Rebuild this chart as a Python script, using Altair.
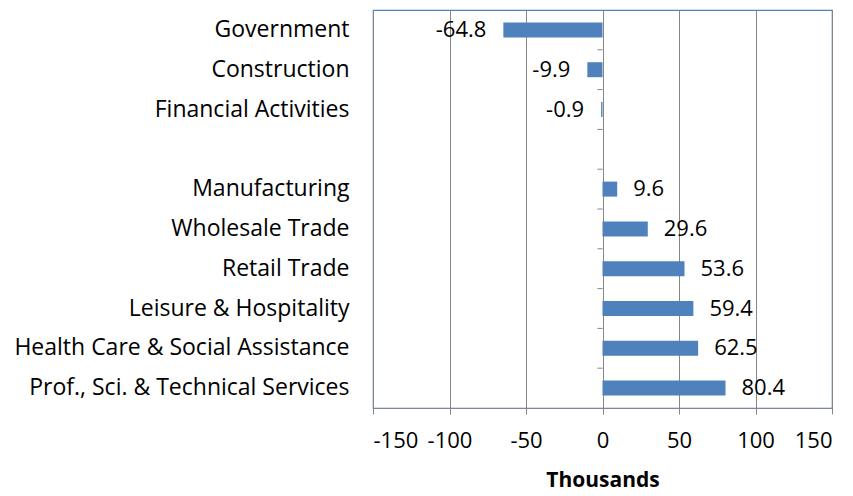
import altair as alt
import pandas as pd

categories = ["Government", "Construction", "Financial Activities", " ",
              "Manufacturing", "Wholesale Trade", "Retail Trade",
              "Leisure & Hospitality", "Health Care & Social Assistance",
              "Prof., Sci. & Technical Services"]
bar_categories = ["Government", "Construction", "Financial Activities",
                  "Manufacturing", "Wholesale Trade", "Retail Trade",
                  "Leisure & Hospitality", "Health Care & Social Assistance",
                  "Prof., Sci. & Technical Services"]
values = [-64.8, -9.9, -0.9, 9.6, 29.6, 53.6, 59.4, 62.5, 80.4]
x_ticks = [-150, -100, -50, 0, 50, 100, 150]

df = pd.DataFrame({"cat": bar_categories, "val": values})
df["label"] = [f"{v:.1f}" for v in values]
bounds = pd.DataFrame({"cat": categories[1:]})

FONT = "Open Sans"
FS = 23
NFS = 22
BLUE = "#4f81bd"
GRAY = "#868686"

y_scale = alt.Scale(domain=categories, paddingInner=0, paddingOuter=0)
x_scale = alt.Scale(domain=[-150, 150], nice=False)

bars = alt.Chart(df).mark_bar(color=BLUE, size=15).encode(
    x=alt.X("val:Q", scale=x_scale,
            axis=alt.Axis(values=x_ticks, title="Thousands", grid=True,
                          labelExpr="datum.value < 0 ? '-' + abs(datum.value) : '' + datum.value",
                          gridColor=GRAY, gridWidth=1, domainColor=GRAY,
                          tickColor=GRAY, tickSize=6, labelFontSize=NFS,
                          labelFont=FONT, labelColor="black", labelPadding=16,
                          titleFont=FONT, titleFontSize=21, titleFontWeight="bold",
                          titleColor="black", titlePadding=18)),
    y=alt.Y("cat:N", scale=y_scale, sort=categories,
            axis=alt.Axis(title=None, ticks=False, domain=False, labelFontSize=FS,
                          labelFont=FONT, labelColor="black", labelPadding=24,
                          labelLimit=500)),
)

pos_text = alt.Chart(df).transform_filter("datum.val >= 0").mark_text(
    align="left", baseline="middle", dx=16, fontSize=NFS, font=FONT, color="black"
).encode(x=alt.X("val:Q", scale=x_scale), y=alt.Y("cat:N", scale=y_scale, sort=categories),
         text="label:N")

neg_text = alt.Chart(df).transform_filter("datum.val < 0").mark_text(
    align="right", baseline="middle", dx=-17, fontSize=NFS, font=FONT, color="black"
).encode(x=alt.X("val:Q", scale=x_scale), y=alt.Y("cat:N", scale=y_scale, sort=categories),
         text="label:N")

ticks = alt.Chart(bounds).mark_rule(color=GRAY, xOffset=-5).encode(
    x=alt.datum(0, scale=x_scale),
    x2=alt.datum(0),
    y=alt.Y("cat:N", scale=y_scale, sort=categories, bandPosition=0),
)

chart = alt.layer(bars, ticks, pos_text, neg_text).properties(
    width=459, height=398,
    autosize=alt.AutoSizeParams(type="none"),
    padding={"left": 365, "top": 2, "right": 13, "bottom": 84},
).configure_view(stroke=BLUE, strokeWidth=1.2)

chart.save("out.html", embed_options={"renderer": "svg", "actions": False})
